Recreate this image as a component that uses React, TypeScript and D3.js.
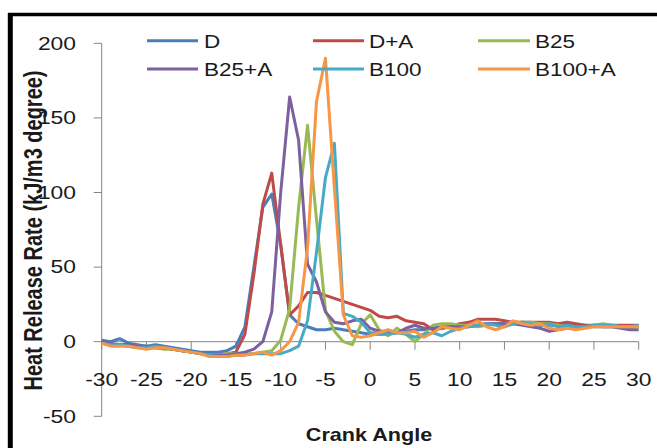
import React from "react";
import * as d3 from "d3";

const angles: number[] = d3.range(-30, 31);

const seriesNames: string[] = ["D", "D+A", "B25", "B25+A", "B100", "B100+A"];
const seriesColors: string[] = ["#4A7EBB", "#BE4B48", "#98B954", "#7D60A0", "#46AAC5", "#F79646"];

const valD: number[] = [
  1, 0, 2, -1, -2, -3, -2, -3, -4, -5, -6, -7, -7, -7, -6, -3,
  10, 50, 90, 99, 65, 18, 12, 10, 8, 8, 9, 8, 7, 6, 5,
  5, 5, 6, 7, 8, 8, 9, 10, 10, 10, 11, 11, 12, 12, 12, 12, 12, 12, 11, 11, 11, 11, 11, 11, 10, 10, 10, 10, 10, 10,
];
const valDA: number[] = [
  0, -2, -2, -2, -3, -4, -3, -4, -5, -6, -7, -8, -9, -9, -8, -7,
  5, 45, 92, 113, 65, 18, 24, 33, 33, 31, 29, 27, 25, 23, 21,
  17, 16, 17, 14, 13, 12, 8, 9, 10, 12, 13, 15, 15, 15, 14, 13, 13, 13, 13, 13, 12, 13, 12, 11, 11, 11, 11, 11, 11, 11,
];
const valB25: number[] = [
  -1, -2, -2, -3, -3, -4, -4, -5, -5, -6, -7, -8, -9, -9, -8, -8,
  -8, -8, -7, -6, 1, 22, 90, 145, 82, 21, 7, 0, -2, 12, 18,
  8, 4, 9, 5, 0, 5, 11, 12, 12, 11, 11, 10, 11, 12, 12, 13, 13, 13, 12, 12, 11, 10, 9, 10, 11, 12, 11, 10, 9, 10,
];
const valB25A: number[] = [
  0, -1, -2, -2, -3, -3, -4, -4, -5, -6, -7, -8, -9, -9, -9, -8,
  -7, -5, 0, 20, 100, 164, 135, 52, 40, 20, 13, 12, 14, 15, 9,
  7, 7, 6, 9, 11, 9, 9, 9, 10, 10, 10, 11, 12, 12, 12, 12, 11, 10, 9, 7, 8, 9, 9, 10, 11, 10, 10, 9, 8, 8,
];
const valB100: number[] = [
  -1, -2, -2, -3, -4, -4, -3, -4, -5, -6, -7, -8, -9, -10, -10, -9,
  -9, -8, -8, -8, -8, -6, -3, 14, 60, 110, 133, 19, 17, 13, 6,
  6, 5, 6, 5, 3, 5, 6, 4, 7, 9, 10, 11, 12, 11, 10, 12, 13, 12, 11, 12, 10, 11, 10, 10, 11, 11, 11, 10, 10, 11,
];
const valB100A: number[] = [
  -1, -3, -3, -3, -4, -5, -4, -4, -5, -6, -7, -8, -10, -10, -10, -9,
  -9, -8, -7, -9, -6, 0, 13, 63, 161, 190, 103, 18, 4, 3, 4,
  6, 8, 6, 6, 7, 3, 6, 10, 9, 8, 11, 14, 10, 8, 10, 14, 12, 11, 12, 9, 8, 9, 8, 9, 10, 10, 10, 10, 10, 10,
];

const seriesValues: number[][] = [valD, valDA, valB25, valB25A, valB100, valB100A];

const xTicks: number[] = d3.range(-30, 31, 5);
const yTicks: number[] = [-50, 0, 50, 100, 150, 200];

const xTitle = "Crank Angle";
const yTitle = "Heat Release Rate (kJ/m3 degree)";

export default function App() {
  const W = 657;
  const H = 448;
  const x = d3.scaleLinear().domain([-30, 30]).range([101.7, 638.7]);
  const y = d3.scaleLinear().domain([-50, 200]).range([416.3, 43.3]);
  const axisColor = "#868686";
  const font = "'Liberation Sans', Arial, sans-serif";
  const sx = 1.27;

  const line = d3
    .line<number>()
    .x((_, i) => x(angles[i]))
    .y((v) => y(v));

  const legendCols = [
    { x1: 147, x2: 198, tx: 204 },
    { x1: 313, x2: 364, tx: 369 },
    { x1: 478, x2: 530, tx: 535 },
  ];
  const legendRows = [{ ly: 40.7, ty: 47.7 }, { ly: 69, ty: 75.7 }];

  return (
    <svg
      width={W}
      height={H}
      style={{ position: "absolute", left: 0, top: 0, display: "block", background: "#fff" }}
      fontFamily={font}
    >
      <rect x={0} y={0} width={W} height={H} fill="#fff" />
      {/* frame */}
      <line x1={8} x2={W} y1={14.5} y2={14.5} stroke="#000" strokeWidth={3.5} />
      <line x1={10.3} x2={10.3} y1={13} y2={H} stroke="#000" strokeWidth={5} />

      {/* y axis */}
      <line x1={x(-30)} x2={x(-30)} y1={y(-50)} y2={y(200)} stroke={axisColor} strokeWidth={1} />
      {yTicks.map((t) => (
        <g key={"yt" + t}>
          <line x1={x(-30) - 8} x2={x(-30)} y1={y(t)} y2={y(t)} stroke={axisColor} strokeWidth={1} />
          <text
            transform={`translate(76,${y(t) + 6.3}) scale(${sx},1)`}
            textAnchor="end"
            fontSize={18}
            fill="#1a1a1a"
          >
            {t}
          </text>
        </g>
      ))}

      {/* x axis */}
      <line x1={x(-30)} x2={x(30)} y1={y(0)} y2={y(0)} stroke={axisColor} strokeWidth={1} />
      {xTicks.map((t) => (
        <g key={"xt" + t}>
          <line x1={x(t)} x2={x(t)} y1={y(0)} y2={y(0) + 8} stroke={axisColor} strokeWidth={1} />
          <text
            transform={`translate(${x(t)},385.5) scale(${sx},1)`}
            textAnchor="middle"
            fontSize={18}
            fill="#1a1a1a"
          >
            {t}
          </text>
        </g>
      ))}

      {/* series */}
      {seriesValues.map((vals, i) => (
        <path
          key={seriesNames[i]}
          d={line(vals) || ""}
          fill="none"
          stroke={seriesColors[i]}
          strokeWidth={3}
          strokeLinejoin="round"
        />
      ))}

      {/* legend */}
      {seriesNames.map((name, i) => {
        const c = legendCols[i % 3];
        const r = legendRows[Math.floor(i / 3)];
        return (
          <g key={"lg" + name}>
            <line x1={c.x1} x2={c.x2} y1={r.ly} y2={r.ly} stroke={seriesColors[i]} strokeWidth={3} />
            <text transform={`translate(${c.tx},${r.ty}) scale(1.25,1)`} fontSize={18} fill="#1a1a1a">
              {name}
            </text>
          </g>
        );
      })}

      {/* axis titles */}
      <text
        transform={`translate(369,441) scale(1.2,1)`}
        textAnchor="middle"
        fontSize={18}
        fontWeight="bold"
        fill="#1a1a1a"
      >
        {xTitle}
      </text>
      <text
        transform={`translate(41.5,230.5) rotate(-90) scale(1,1.3)`}
        textAnchor="middle"
        fontSize={20}
        fontWeight="bold"
        fill="#1a1a1a"
      >
        {yTitle}
      </text>
    </svg>
  );
}
